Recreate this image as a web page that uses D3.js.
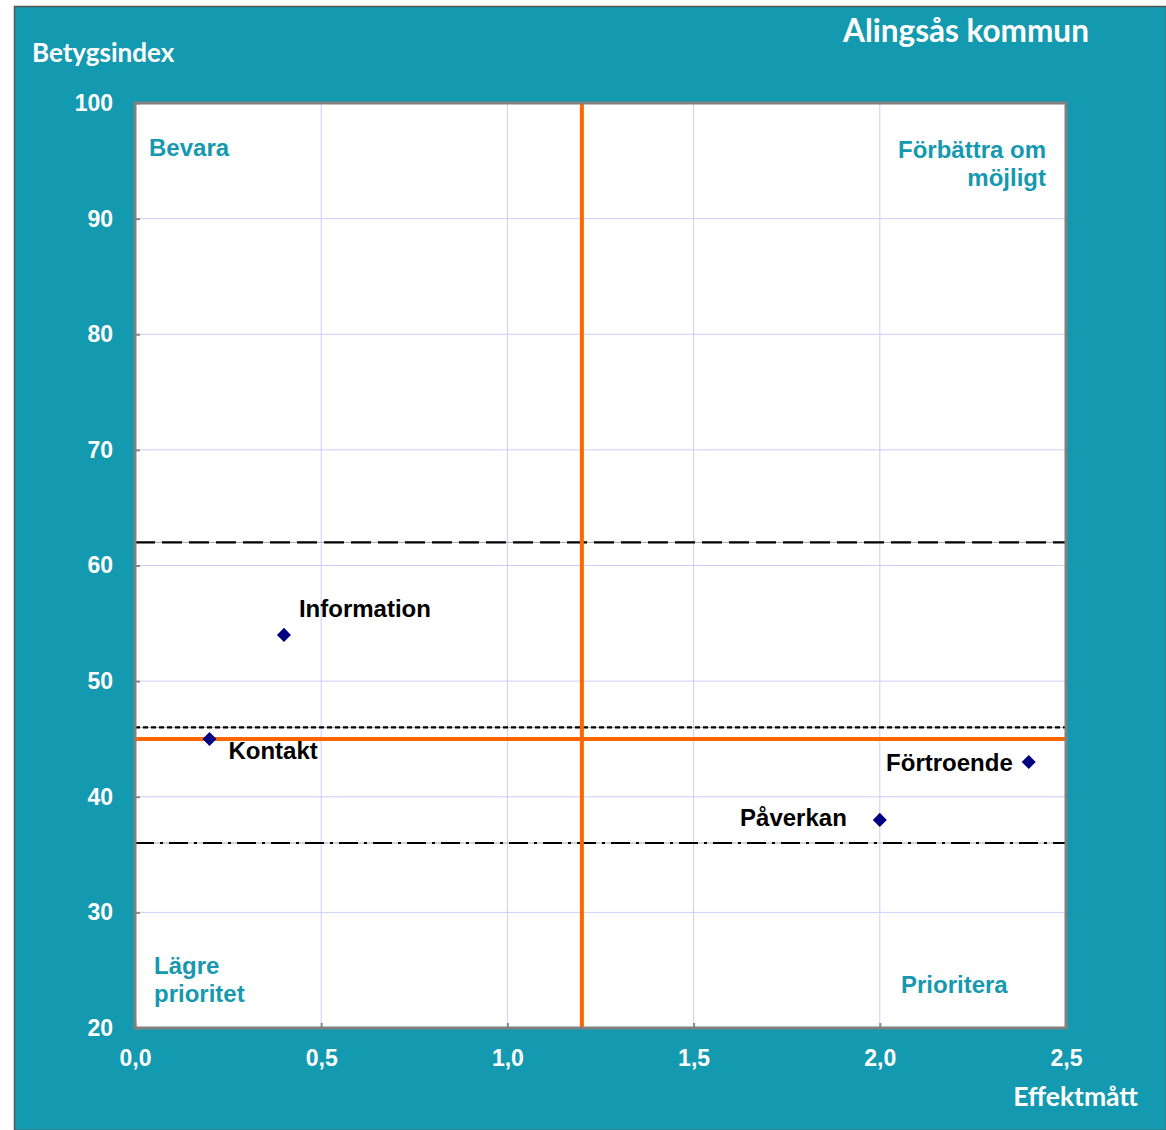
<!DOCTYPE html>
<html>
<head>
<meta charset="utf-8">
<script src="https://cdn.jsdelivr.net/npm/d3@7"></script>
<style>
  body { margin: 0; background: #fff; }
  .tick text { font-family: "Liberation Sans", Arial, sans-serif; font-weight: bold; font-size: 23px; fill: #fff; }
  .title { font-family: Lato, "Open Sans", sans-serif; font-weight: bold; fill: #fff; }
  .quad { font-family: "Liberation Sans", Arial, sans-serif; font-weight: bold; font-size: 24px; fill: #1699AF; }
  .plabel { font-family: "Liberation Sans", Arial, sans-serif; font-weight: bold; font-size: 24px; fill: #000; }
</style>
</head>
<body>
<div id="chart"></div>
<script>
// data
var names = ["Information", "Kontakt", "Förtroende", "Påverkan"];
var effekt = [0.4, 0.2, 2.4, 2.0];
var betyg = [54, 45, 43, 38];
var xTicks = [0, 0.5, 1.0, 1.5, 2.0, 2.5];
var yTicks = [20, 30, 40, 50, 60, 70, 80, 90, 100];
var medianX = 1.2;   // orange vertical
var medianY = 45;    // orange horizontal
var refLevels = [62, 46, 36]; // long dash, short dash, dash-dot

var W = 1166, H = 1130;
var margin = {left: 135, top: 103, right: 100, bottom: 102};
var width = W - margin.left - margin.right,
    height = H - margin.top - margin.bottom;

var svg = d3.select("#chart").append("svg")
    .attr("width", W)
    .attr("height", H);

// teal frame
svg.append("rect")
    .attr("x", 14.5).attr("y", 6.5)
    .attr("width", W - 14).attr("height", H - 6)
    .attr("fill", "#139AB0")
    .attr("stroke", "#555")
    .attr("stroke-width", 1.5);

var x = d3.scaleLinear().domain([0, 2.5]).range([0, width]);
var y = d3.scaleLinear().domain([20, 100]).range([height, 0]);

var g = svg.append("g")
    .attr("transform", "translate(" + margin.left + "," + margin.top + ")");

g.append("rect")
    .attr("width", width).attr("height", height)
    .attr("fill", "#fff");

// grid
g.selectAll(".gx").data(xTicks.slice(1, -1)).enter().append("line")
    .attr("x1", d => x(d)).attr("x2", d => x(d))
    .attr("y1", 0).attr("y2", height)
    .attr("stroke", "#ccccff").attr("stroke-width", 1);
g.selectAll(".gy").data(yTicks.slice(1, -1)).enter().append("line")
    .attr("x1", 0).attr("x2", width)
    .attr("y1", d => y(d)).attr("y2", d => y(d))
    .attr("stroke", "#ccccff").attr("stroke-width", 1);

var fmt = function (d) { return d3.format(".1f")(d).replace(".", ","); };

// axes
var xAxis = g.append("g")
    .attr("transform", "translate(0," + height + ")")
    .call(d3.axisBottom(x).tickValues(xTicks).tickFormat(fmt).tickSizeInner(-5).tickSizeOuter(0).tickPadding(22));
var yAxis = g.append("g")
    .call(d3.axisLeft(y).tickValues(yTicks).tickSizeInner(-5).tickSizeOuter(0).tickPadding(22));
[xAxis, yAxis].forEach(function (a) {
    a.select(".domain").remove();
    a.selectAll(".tick line").attr("stroke", "#888").attr("stroke-width", 2);
});

// reference lines
var dashes = ["20,7", "5,3", "19,6,3,6"];
g.selectAll(".refbg").data(refLevels).enter().append("line")
    .attr("x1", 0).attr("x2", width)
    .attr("y1", d => y(d)).attr("y2", d => y(d))
    .attr("stroke", "#aaa").attr("stroke-width", 1);
g.selectAll(".ref").data(refLevels).enter().append("line")
    .attr("x1", 0).attr("x2", width)
    .attr("y1", d => y(d)).attr("y2", d => y(d))
    .attr("stroke", "#000").attr("stroke-width", 2.2)
    .attr("stroke-dasharray", (d, i) => dashes[i]);

// median lines
g.append("line")
    .attr("x1", x(medianX)).attr("x2", x(medianX))
    .attr("y1", 0).attr("y2", height)
    .attr("stroke", "#FF6600").attr("stroke-width", 4);
g.append("line")
    .attr("x1", 0).attr("x2", width)
    .attr("y1", y(medianY)).attr("y2", y(medianY))
    .attr("stroke", "#FF6600").attr("stroke-width", 4);

// plot border
g.append("rect")
    .attr("width", width).attr("height", height)
    .attr("fill", "none")
    .attr("stroke", "#808080").attr("stroke-width", 3);

// points
var pts = names.map(function (n, i) { return {name: n, x: effekt[i], y: betyg[i]}; });
g.selectAll(".pt").data(pts).enter().append("path")
    .attr("d", d3.symbol().type(d3.symbolDiamond2).size(125))
    .attr("transform", d => "translate(" + x(d.x) + "," + y(d.y) + ")")
    .attr("fill", "#000080");

// label placement relative to its marker
var labelPos = {
    "Information": {dx: 15, dy: -18, anchor: "start"},
    "Kontakt": {dx: 19, dy: 20, anchor: "start"},
    "Förtroende": {dx: -16, dy: 9, anchor: "end"},
    "Påverkan": {dx: -33, dy: 6, anchor: "end"}
};
g.selectAll(".plabel").data(pts).enter().append("text")
    .attr("class", "plabel")
    .attr("x", d => x(d.x) + labelPos[d.name].dx)
    .attr("y", d => y(d.y) + labelPos[d.name].dy)
    .attr("text-anchor", d => labelPos[d.name].anchor)
    .text(d => d.name);

// quadrant names
var quads = [
    {lines: ["Bevara"], x: 14, y: 53, anchor: "start"},
    {lines: ["Förbättra om", "möjligt"], x: width - 20, y: 55, anchor: "end"},
    {lines: ["Lägre", "prioritet"], x: 19, y: 871, anchor: "start"},
    {lines: ["Prioritera"], x: 766, y: 890, anchor: "start"}
];
quads.forEach(function (q) {
    var t = g.append("text").attr("class", "quad")
        .attr("text-anchor", q.anchor);
    q.lines.forEach(function (l, i) {
        t.append("tspan").attr("x", q.x).attr("y", q.y + i * 28).text(l);
    });
});

// titles
svg.append("text").attr("class", "title")
    .attr("x", 966).attr("y", 42)
    .attr("text-anchor", "middle")
    .style("font-size", "31.5px")
    .text("Alingsås kommun");
svg.append("text").attr("class", "title")
    .attr("x", 32).attr("y", 62)
    .style("font-size", "26px")
    .text("Betygsindex");
svg.append("text").attr("class", "title")
    .attr("x", 1138).attr("y", 1106)
    .attr("text-anchor", "end")
    .style("font-size", "26.5px")
    .text("Effektmått");
</script>
</body>
</html>
